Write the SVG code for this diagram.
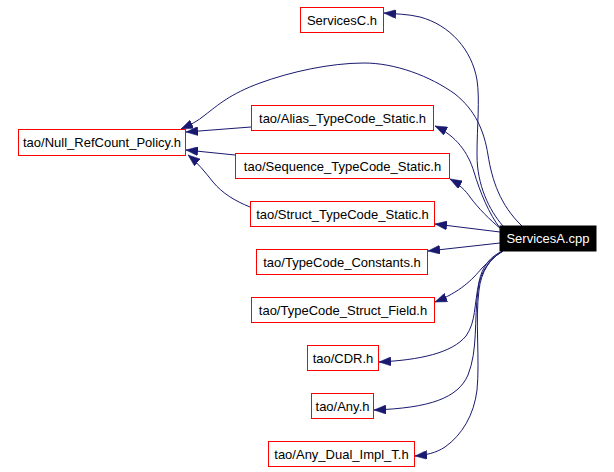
<svg xmlns="http://www.w3.org/2000/svg" width="614" height="472" viewBox="0 0 614 472">
<style>
.n rect{fill:#fff;stroke:#ff0000;stroke-width:1}
.n text{font-family:"Liberation Sans",Arial,sans-serif;font-size:13px;text-anchor:middle;fill:#000}
#nA rect{fill:#000;stroke:#000}
#nA text{fill:#fff}
.e path{fill:none;stroke:#191970;stroke-width:1;marker-end:url(#ah)}
</style>
<defs>
<marker id="ah" viewBox="0 0 12 9" refX="12" refY="4.5" markerWidth="12" markerHeight="9" markerUnits="userSpaceOnUse" orient="auto">
<path d="M0,0 L12,4.5 L0,9 z" fill="#191970" stroke="#191970" stroke-width="0.5"/>
</marker>
</defs>
<rect width="614" height="472" fill="#fff"/>
<g class="e" id="edges">
<path d="M503,226 C489,210 477,185 477,155 C477,125 480,100 477,80 C472,50 450,25 420,17 C408,14 395,14 384,13"/>
<path d="M522,226 C500,205 492,180 488,155 C484,130 475,110 455,94 C430,76 395,63 364,63 C330,63 290,72 260,83 C230,94 218,105 205,115 C198,121 190,125 181,129"/>
<path d="M500,228 C489,214 480,192 474,172 C468,152 456,136 435,126"/>
<path d="M501,229 C490,220 478,208 470,197 C466,191 459,184 450,179"/>
<path d="M500,232 L435,224"/>
<path d="M500,243 L428,251"/>
<path d="M503,251 C495,256 488,262 482,268 C472,280 460,292 435,302"/>
<path d="M503,251 C490,256 482,267 479,282 C474,305 476,322 466,336 C452,353 420,360 379,362"/>
<path d="M503,251 C492,257 480,270 478,290 C474,320 478,350 468,375 C458,398 430,408 374,410"/>
<path d="M503,251 C490,258 481,272 479,290 C475,320 480,360 477,390 C474,415 462,435 445,447 C436,453 426,455 415,456"/>
<path d="M251,127 L186,132"/>
<path d="M235,155 L186,150"/>
<path d="M250,207 C235,201 222,193 213,182 C205,172 198,163 188,155"/>
</g>
<g class="n" id="nA"><rect x="500" y="226" width="96" height="25"/><text x="548" y="243">ServicesA.cpp</text></g>
<g class="n" id="nC"><rect x="300.5" y="7.5" width="83" height="25"/><text x="342" y="24.5">ServicesC.h</text></g>
<g class="n" id="nNull"><rect x="18.5" y="129.5" width="167" height="26"/><text x="102" y="147">tao/Null_RefCount_Policy.h</text></g>
<g class="n" id="nAlias"><rect x="251.5" y="105.5" width="182" height="25"/><text x="342.5" y="122.5">tao/Alias_TypeCode_Static.h</text></g>
<g class="n" id="nSeq"><rect x="235.5" y="153.5" width="214" height="25"/><text x="342.5" y="170.5">tao/Sequence_TypeCode_Static.h</text></g>
<g class="n" id="nStruct"><rect x="250.5" y="201.5" width="184" height="25"/><text x="342.5" y="218.5">tao/Struct_TypeCode_Static.h</text></g>
<g class="n" id="nConst"><rect x="256.5" y="249.5" width="171" height="25"/><text x="342" y="266.5">tao/TypeCode_Constants.h</text></g>
<g class="n" id="nField"><rect x="251.5" y="297.5" width="183" height="25"/><text x="343" y="314.5">tao/TypeCode_Struct_Field.h</text></g>
<g class="n" id="nCDR"><rect x="307.5" y="345.5" width="71" height="25"/><text x="343" y="362.5">tao/CDR.h</text></g>
<g class="n" id="nAny"><rect x="311.5" y="393.5" width="62" height="25"/><text x="342.5" y="410.5">tao/Any.h</text></g>
<g class="n" id="nDual"><rect x="268.5" y="441.5" width="146" height="25"/><text x="341.5" y="458.5">tao/Any_Dual_Impl_T.h</text></g>
</svg>
